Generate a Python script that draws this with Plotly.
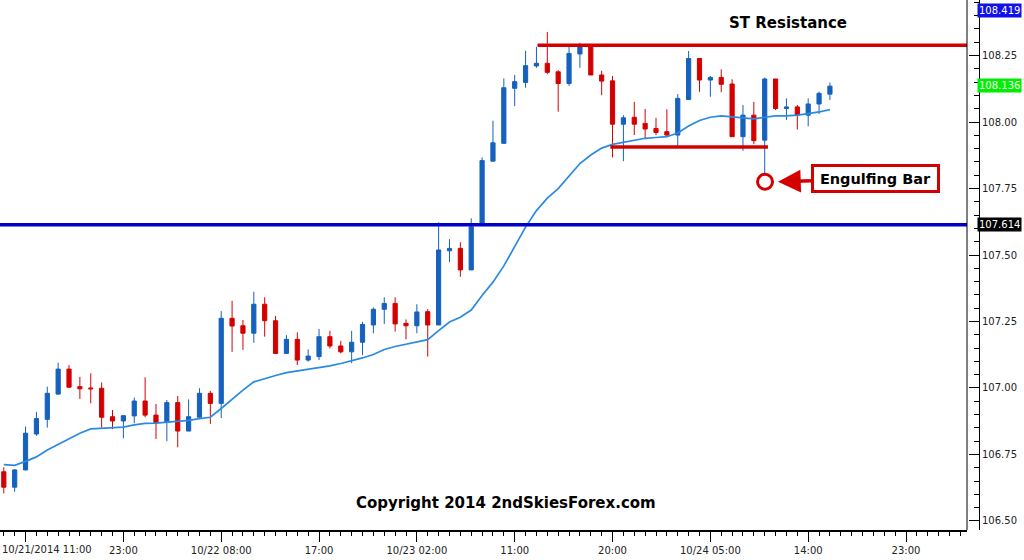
import plotly.graph_objects as go

# ---- data ----
bar_idx = list(range(77))
open_ = [106.685, 106.627, 106.692, 106.827, 106.882, 106.977, 107.071, 107.005, 107.000, 106.999,
         106.892, 106.876, 106.895, 106.951, 106.898, 106.873, 106.945, 106.838, 106.890, 106.980,
         106.942, 107.262, 107.234, 107.206, 107.315, 107.253, 107.130, 107.183, 107.105, 107.118,
         107.193, 107.158, 107.136, 107.172, 107.237, 107.296, 107.318, 107.243, 107.234, 107.287,
         107.237, 107.516, 107.525, 107.444, 107.617, 107.853, 107.920, 108.127, 108.149, 108.211,
         108.221, 108.189, 108.145, 108.256, 108.286, 108.177, 108.155, 107.992, 108.018, 107.995,
         107.976, 107.964, 107.951, 108.085, 108.239, 108.158, 108.168, 108.143, 107.945, 108.026,
         107.932, 108.162, 108.051, 108.057, 108.026, 108.068, 108.105]
high_ = [106.702, 106.695, 106.855, 106.910, 107.005, 107.095, 107.086, 107.042, 107.055, 107.021,
         106.917, 106.896, 106.964, 107.040, 106.940, 106.955, 106.970, 106.957, 106.999, 106.989,
         107.289, 107.328, 107.256, 107.362, 107.341, 107.271, 107.199, 107.209, 107.145, 107.222,
         107.215, 107.177, 107.215, 107.249, 107.303, 107.341, 107.341, 107.258, 107.315, 107.296,
         107.623, 107.560, 107.548, 107.638, 107.867, 108.005, 108.164, 108.177, 108.268, 108.283,
         108.339, 108.195, 108.283, 108.298, 108.290, 108.193, 108.173, 108.026, 108.076, 108.049,
         108.016, 108.048, 108.105, 108.267, 108.239, 108.173, 108.198, 108.161, 108.064, 108.076,
         108.167, 108.162, 108.089, 108.064, 108.089, 108.114, 108.149]
low_ = [106.604, 106.610, 106.690, 106.820, 106.851, 106.975, 106.999, 106.959, 106.942, 106.851,
        106.845, 106.811, 106.867, 106.890, 106.808, 106.800, 106.777, 106.838, 106.890, 106.865,
        106.887, 107.136, 107.143, 107.170, 107.193, 107.128, 107.130, 107.086, 107.099, 107.105,
        107.149, 107.130, 107.093, 107.124, 107.206, 107.241, 107.212, 107.183, 107.206, 107.118,
        107.237, 107.473, 107.418, 107.444, 107.617, 107.853, 107.920, 108.060, 108.129, 108.204,
        108.180, 108.039, 108.136, 108.204, 108.177, 108.101, 107.867, 107.853, 107.951, 107.936,
        107.951, 107.945, 107.910, 108.085, 108.114, 108.095, 108.112, 107.945, 107.892, 107.917,
        107.800, 108.045, 108.008, 107.972, 107.984, 108.030, 108.083]
close_ = [106.627, 106.692, 106.830, 106.885, 106.980, 107.071, 107.003, 106.997, 106.997, 106.890,
          106.876, 106.896, 106.951, 106.898, 106.870, 106.945, 106.838, 106.892, 106.980, 106.942,
          107.262, 107.233, 107.206, 107.315, 107.253, 107.130, 107.183, 107.105, 107.120, 107.193,
          107.158, 107.136, 107.172, 107.239, 107.296, 107.318, 107.241, 107.234, 107.286, 107.237,
          107.519, 107.525, 107.444, 107.606, 107.855, 107.922, 108.129, 108.152, 108.212, 108.221,
          108.187, 108.145, 108.258, 108.286, 108.177, 108.154, 107.992, 108.016, 107.992, 107.974,
          107.961, 107.951, 108.089, 108.239, 108.158, 108.168, 108.142, 107.945, 108.026, 107.930,
          108.162, 108.051, 108.057, 108.026, 108.068, 108.108, 108.135]
ma_line = [106.712, 106.709, 106.724, 106.741, 106.767, 106.788, 106.808, 106.830, 106.846, 106.849,
           106.850, 106.853, 106.861, 106.867, 106.868, 106.871, 106.874, 106.878, 106.885, 106.890,
           106.923, 106.959, 106.992, 107.023, 107.036, 107.047, 107.058, 107.064, 107.070, 107.075,
           107.083, 107.092, 107.102, 107.113, 107.126, 107.145, 107.156, 107.165, 107.173, 107.182,
           107.216, 107.248, 107.266, 107.293, 107.348, 107.398, 107.459, 107.532, 107.605, 107.667,
           107.714, 107.750, 107.795, 107.844, 107.876, 107.902, 107.916, 107.924, 107.932, 107.939,
           107.942, 107.945, 107.959, 107.985, 108.006, 108.018, 108.023, 108.019, 108.014, 108.012,
           108.018, 108.023, 108.023, 108.026, 108.032, 108.038, 108.047]

tick_idx = [2, 11, 20, 29, 38, 47, 56, 65, 74, 83]
first_tick_label = "10/21/2014 11:00"
tick_text = ["", "23:00", "10/22 08:00", "17:00", "10/23 02:00",
             "11:00", "20:00", "10/24 05:00", "14:00", "23:00"]

support_level = 107.614
resistance_level = 108.289
range_low_level = 107.906
high_tag = 108.419
last_tag = 108.136

BLUE = "#1561bd"
RED = "#d40000"

fig = go.Figure()
fig.add_trace(go.Candlestick(
    x=bar_idx, open=open_, high=high_, low=low_, close=close_,
    increasing=dict(line=dict(color=BLUE, width=1), fillcolor=BLUE),
    decreasing=dict(line=dict(color=RED, width=1), fillcolor=RED),
    whiskerwidth=0, hoverinfo="skip", showlegend=False))
fig.add_trace(go.Scatter(x=bar_idx, y=ma_line, mode="lines",
                         line=dict(color="#2a8ae2", width=1.7),
                         hoverinfo="skip", showlegend=False))

shapes = [
    dict(type="line", xref="x domain", x0=0, x1=1, yref="y", y0=support_level, y1=support_level,
         line=dict(color="#0000cc", width=3.5)),
    dict(type="line", xref="x", x0=49.1, x1=88.61, yref="y", y0=resistance_level, y1=resistance_level,
         line=dict(color=RED, width=3.5)),
    dict(type="line", xref="x", x0=55.8, x1=70.3, yref="y", y0=range_low_level, y1=range_low_level,
         line=dict(color=RED, width=3.5)),
    dict(type="circle", xref="x", yref="y", x0=70.03 - 0.69, x1=70.03 + 0.69,
         y0=107.7756 - 0.0282, y1=107.7756 + 0.0282,
         line=dict(color=RED, width=3), fillcolor="white"),
    dict(type="line", xref="x domain", x0=1, x1=1, yref="y domain", y0=0, y1=1,
         line=dict(color="black", width=1)),
]

annotations = [
    dict(text="<b>ST Resistance</b>", x=72.14, y=108.374, xref="x", yref="y", showarrow=False,
         font=dict(family="DejaVu Sans", size=15, color="black")),
    dict(text="<b>Copyright 2014 2ndSkiesForex.com</b>", x=46.19, y=106.568, xref="x", yref="y",
         showarrow=False, font=dict(family="DejaVu Sans", size=15, color="black")),
    dict(text="<b>Engulfing Bar</b>", x=71.22, y=107.7756, xref="x", yref="y",
         showarrow=True, ax=98, ay=-3, axref="pixel", ayref="pixel",
         arrowhead=2, arrowsize=1.3, arrowwidth=3.5, arrowcolor=RED,
         bordercolor=RED, borderwidth=3, borderpad=3, bgcolor="white",
         width=117, height=17,
         font=dict(family="DejaVu Sans", size=14.5, color="black")),
    dict(text="108.419", x=1, xref="paper", y=high_tag, yref="y", xanchor="left", showarrow=False,
         xshift=-2, bgcolor="#1010e8", borderpad=1, font=dict(family="DejaVu Sans", size=10, color="white")),
    dict(text="108.136", x=1, xref="paper", y=last_tag, yref="y", xanchor="left", showarrow=False,
         xshift=-2, bgcolor="#00ee00", borderpad=1, font=dict(family="DejaVu Sans", size=10, color="white")),
    dict(text="107.614", x=1, xref="paper", y=support_level, yref="y", xanchor="left", showarrow=False,
         xshift=-2, bgcolor="black", borderpad=1, font=dict(family="DejaVu Sans", size=10, color="white")),
    dict(text=first_tick_label, x=0, xref="paper", xanchor="left", y=0, yref="paper", yanchor="top",
         yshift=-12, showarrow=False, font=dict(family="DejaVu Sans", size=10, color="#222")),
]

fig.update_layout(
    width=1024, height=560,
    margin=dict(l=0, r=45, t=0, b=30),
    paper_bgcolor="white", plot_bgcolor="white",
    font=dict(family="DejaVu Sans", size=10, color="black"),
    boxgap=0.45,
    showlegend=False,
    shapes=shapes,
    annotations=annotations,
    xaxis=dict(range=[-0.35, 88.61], domain=[0, 967 / 979], showgrid=False, zeroline=False,
               showline=True, linecolor="black", linewidth=2,
               ticks="outside", ticklen=10, tickcolor="black", tickwidth=1,
               tickmode="array", tickvals=tick_idx, ticktext=tick_text,
               tickfont=dict(family="DejaVu Sans", size=10, color="#222"),
               minor=dict(tickmode="linear", tick0=0, dtick=1, ticks="outside", ticklen=4,
                          tickcolor="black", tickwidth=1, showgrid=False),
               rangeslider=dict(visible=False), fixedrange=True),
    yaxis=dict(range=[106.466, 108.459], side="right", anchor="free", position=1,
               showgrid=False, zeroline=False, showline=True, linecolor="black", linewidth=1,
               ticks="inside", ticklen=10, tickcolor="black", tickwidth=1,
               tick0=106.5, dtick=0.25, tickformat=".2f",
               tickfont=dict(family="DejaVu Sans", size=10, color="#222"),
               minor=dict(tick0=106.5, dtick=0.05, ticks="inside", ticklen=5,
                          tickcolor="black", tickwidth=1, showgrid=False),
               fixedrange=True),
)

fig.write_html("out.html", config={"displayModeBar": False},
               post_script="document.body.style.margin='0';")
